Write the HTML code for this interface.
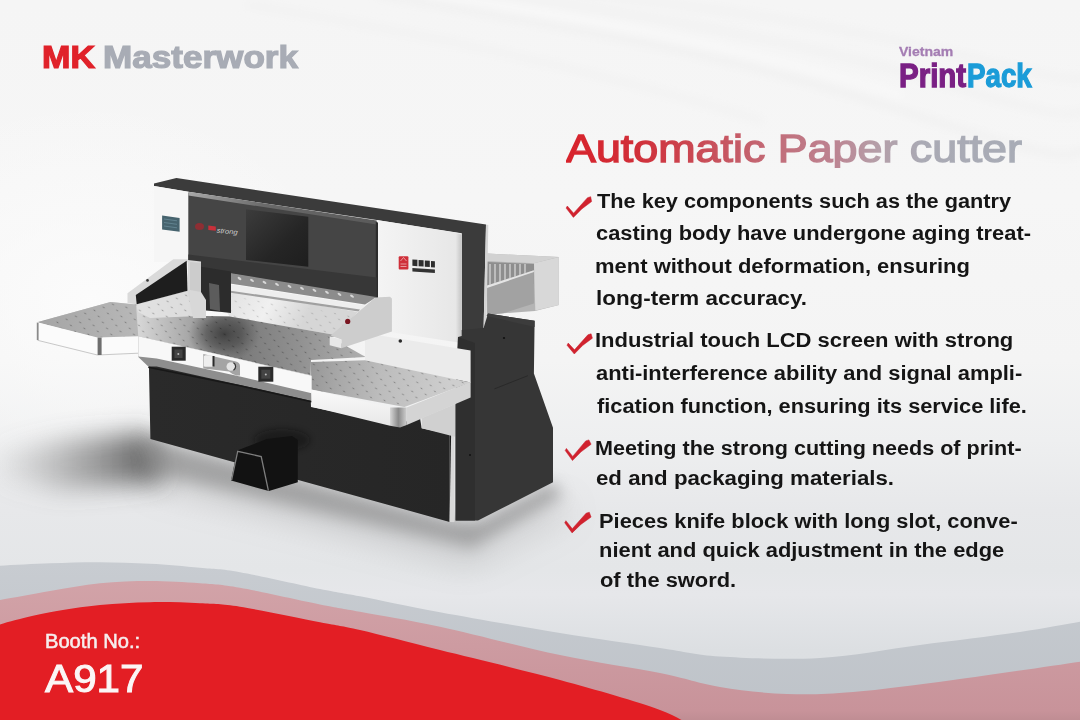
<!DOCTYPE html>
<html><head><meta charset="utf-8"><style>
*{margin:0;padding:0;box-sizing:border-box}
html,body{width:1080px;height:720px;overflow:hidden}
body{position:relative;background:radial-gradient(ellipse 260px 200px at 90px 300px,rgba(252,252,252,0.9),rgba(252,252,252,0)),linear-gradient(180deg,#f5f5f5 0px,#f6f6f6 200px,#f4f4f4 360px,#eeeff0 440px,#e7e8ea 510px,#e4e6e8 570px,#e6e7ea 595px,#dcdfe2 650px,#dadde0 720px);font-family:"Liberation Sans",sans-serif}
.t,.b,.title,.mk,.mw,.vn,.pr,.pk,.booth,.num{position:absolute;white-space:nowrap;line-height:1;transform-origin:0 0}
.b{font-weight:bold;color:#151515}
.title{font-weight:normal;-webkit-text-stroke:1.4px transparent;background:linear-gradient(90deg,#d8222b 0%,#d12e38 15%,#c8505b 32%,#c26b77 45%,#bd8290 58%,#b59ea8 68%,#aaaab4 78%,#a8acb6 100%);-webkit-background-clip:text;background-clip:text;color:transparent}
.mk{font-weight:bold;color:#e0222a;-webkit-text-stroke:1.2px #e0222a}
.mw{font-weight:bold;color:#a8acb5;-webkit-text-stroke:1.2px #a8acb5}
.vn{font-weight:bold;color:#a47db3;-webkit-text-stroke:0.3px #a47db3}
.pr{font-weight:bold;color:#7a2084;-webkit-text-stroke:1.3px #7a2084}
.pk{font-weight:bold;color:#1b9cd8;-webkit-text-stroke:1.3px #1b9cd8}
.booth{color:#f6eeee;-webkit-text-stroke:0.55px #f6eeee}
.num{color:#fbf6f6;-webkit-text-stroke:1px #fbf6f6}
svg{position:absolute;left:0;top:0}
</style></head><body>
<svg width="1080" height="720" viewBox="0 0 1080 720">
<defs>
<linearGradient id="gpink" x1="0" y1="0" x2="0" y2="1"><stop offset="0" stop-color="#d2a3a8"/><stop offset="0.9" stop-color="#c8939a"/><stop offset="1" stop-color="#bb8a90"/></linearGradient>
<linearGradient id="ggray" x1="0" y1="0" x2="0" y2="1"><stop offset="0" stop-color="#c8ccd1"/><stop offset="1" stop-color="#bdc2c8"/></linearGradient>
<filter id="blur8" x="-50%" y="-50%" width="200%" height="200%"><feGaussianBlur stdDeviation="14"/></filter>
</defs>
<filter id="stb" filterUnits="userSpaceOnUse" x="0" y="-50" width="1080" height="300"><feGaussianBlur stdDeviation="4"/></filter>
<g filter="url(#stb)" fill="none" stroke-linecap="round">
<path d="M380,-5 C520,20 700,45 900,110 S1060,150 1090,150" stroke="#e8e8e8" stroke-width="7" opacity="0.4"/>
<path d="M470,-10 C600,10 760,30 930,80 S1060,110 1090,112" stroke="#e9e9e9" stroke-width="6" opacity="0.35"/>
<path d="M560,-10 C680,5 820,20 960,55 S1070,75 1090,78" stroke="#e8e8e8" stroke-width="6" opacity="0.35"/>
<path d="M250,5 C400,30 560,60 760,120" stroke="#ececec" stroke-width="8" opacity="0.3"/>
<path d="M430,-5 C560,15 720,40 900,95" stroke="#fcfcfc" stroke-width="6" opacity="0.6"/>
</g>
<path d="M-5.0,566.0 C4.2,565.5 32.5,563.9 50.0,563.3 C67.5,562.7 83.3,562.1 100.0,562.2 C116.7,562.3 133.3,562.9 150.0,563.8 C166.7,564.7 185.0,566.4 200.0,567.8 C215.0,569.2 220.0,568.7 240.0,572.2 C260.0,575.7 300.0,584.9 320.0,588.9 C340.0,592.9 340.0,592.4 360.0,596.3 C380.0,600.2 406.7,606.1 440.0,612.2 C473.3,618.3 523.3,627.0 560.0,633.0 C596.7,639.0 633.3,644.1 660.0,648.0 C686.7,651.9 693.3,654.8 720.0,656.5 C746.7,658.2 786.7,659.9 820.0,658.0 C853.3,656.1 886.7,649.3 920.0,645.0 C953.3,640.7 992.5,636.0 1020.0,632.0 C1047.5,628.0 1074.2,622.8 1085.0,621.0 L1085,725 L-5,725 Z" fill="url(#ggray)"/>
<path d="M-5.0,601.0 C4.2,599.4 32.5,594.1 50.0,591.1 C67.5,588.1 83.3,585.0 100.0,583.3 C116.7,581.6 133.3,581.1 150.0,581.1 C166.7,581.1 185.0,582.2 200.0,583.3 C215.0,584.4 220.0,584.3 240.0,587.8 C260.0,591.3 300.0,600.4 320.0,604.4 C340.0,608.4 340.0,608.0 360.0,611.7 C380.0,615.4 406.7,619.5 440.0,626.7 C473.3,633.9 523.3,647.3 560.0,655.0 C596.7,662.7 633.3,667.7 660.0,673.0 C686.7,678.3 698.8,683.5 720.0,687.0 C741.2,690.5 764.8,693.2 787.0,694.0 C809.2,694.8 825.3,694.3 853.0,692.0 C880.7,689.7 914.3,685.2 953.0,680.0 C991.7,674.8 1063.0,664.2 1085.0,661.0 L1085,725 L-5,725 Z" fill="url(#gpink)"/>
<path d="M-5.0,626.0 C-1.6,625.0 6.3,622.3 15.5,620.0 C24.7,617.7 35.9,614.7 50.0,612.2 C64.1,609.7 83.3,606.8 100.0,605.1 C116.7,603.4 133.3,602.5 150.0,602.2 C166.7,601.9 185.0,602.5 200.0,603.3 C215.0,604.0 220.0,603.6 240.0,606.7 C260.0,609.9 300.0,618.3 320.0,622.2 C340.0,626.1 340.0,625.4 360.0,630.0 C380.0,634.6 406.7,641.7 440.0,650.0 C473.3,658.3 523.3,670.0 560.0,680.0 C596.7,690.0 636.7,701.3 660.0,710.0 C683.3,718.7 693.3,728.3 700.0,732.0 L1085,725 L-5,725 Z" fill="#e31e24"/>
</svg>
<svg width="1080" height="720" viewBox="0 0 1080 720">
<defs>
<filter id="sh1" filterUnits="userSpaceOnUse" x="-100" y="0" width="1280" height="720"><feGaussianBlur stdDeviation="16"/></filter>
<filter id="sh2" filterUnits="userSpaceOnUse" x="-100" y="0" width="1280" height="720"><feGaussianBlur stdDeviation="8"/></filter>
<filter id="sh3" filterUnits="userSpaceOnUse" x="-100" y="0" width="1280" height="720"><feGaussianBlur stdDeviation="3"/></filter>
<linearGradient id="tbl" gradientUnits="userSpaceOnUse" x1="138" y1="0" x2="370" y2="0"><stop offset="0" stop-color="#d4d4d4"/><stop offset="0.2" stop-color="#a8a8a8"/><stop offset="0.33" stop-color="#555555"/><stop offset="0.45" stop-color="#666666"/><stop offset="0.7" stop-color="#878787"/><stop offset="1" stop-color="#a5a5a5"/></linearGradient>
<linearGradient id="wingL" gradientUnits="userSpaceOnUse" x1="37" y1="0" x2="138" y2="0"><stop offset="0" stop-color="#a2a2a2"/><stop offset="1" stop-color="#b9b9b9"/></linearGradient>
<linearGradient id="wingR" gradientUnits="userSpaceOnUse" x1="311" y1="0" x2="471" y2="0"><stop offset="0" stop-color="#b8b8b8"/><stop offset="0.5" stop-color="#cfcfcf"/><stop offset="1" stop-color="#dedede"/></linearGradient>
<linearGradient id="body" gradientUnits="userSpaceOnUse" x1="150" y1="0" x2="450" y2="0"><stop offset="0" stop-color="#2a2a2a"/><stop offset="1" stop-color="#262626"/></linearGradient>
<linearGradient id="scr" x1="0" y1="0" x2="1" y2="1"><stop offset="0" stop-color="#3c3c3c"/><stop offset="0.6" stop-color="#252525"/><stop offset="1" stop-color="#1e1e1e"/></linearGradient>
<linearGradient id="wp" x1="0" y1="0" x2="1" y2="0"><stop offset="0" stop-color="#f4f4f4"/><stop offset="1" stop-color="#e6e6e6"/></linearGradient>
<linearGradient id="ff" x1="0" y1="0" x2="0" y2="1"><stop offset="0" stop-color="#fafafa"/><stop offset="1" stop-color="#e8e8e8"/></linearGradient>
<linearGradient id="ped" gradientUnits="userSpaceOnUse" x1="455" y1="0" x2="553" y2="0"><stop offset="0" stop-color="#3a3a3a"/><stop offset="1" stop-color="#323232"/></linearGradient>
<linearGradient id="corner" x1="0" y1="0" x2="1" y2="0"><stop offset="0" stop-color="#d8d8d8"/><stop offset="0.5" stop-color="#8a8a8a"/><stop offset="1" stop-color="#cfcfcf"/></linearGradient>
<pattern id="dots" patternUnits="userSpaceOnUse" width="22.7" height="6" patternTransform="matrix(1 0 0.7 1 0 0)"><circle cx="2" cy="1.5" r="0.85" fill="#000" fill-opacity="0.28"/><circle cx="13.35" cy="4.5" r="0.85" fill="#000" fill-opacity="0.28"/></pattern>
</defs>
<!-- floor shadows -->
<filter id="sh4" filterUnits="userSpaceOnUse" x="-100" y="0" width="1280" height="720"><feGaussianBlur stdDeviation="12"/></filter>
<linearGradient id="shg" gradientUnits="userSpaceOnUse" x1="0" y1="0" x2="160" y2="0"><stop offset="0" stop-color="#888" stop-opacity="0.1"/><stop offset="0.5" stop-color="#666" stop-opacity="0.5"/><stop offset="1" stop-color="#3a3a3a" stop-opacity="0.85"/></linearGradient>
<polygon points="0,452 60,440 150,432 165,482 60,490 0,478" fill="url(#shg)" filter="url(#sh4)"/>
<polygon points="145,436 450,520 478,522 553,482 562,496 472,548 150,472" fill="#707070" opacity="0.55" filter="url(#sh2)"/>
<polygon points="150,450 450,535 480,540 560,500 570,515 470,565 150,485" fill="#909090" opacity="0.35" filter="url(#sh1)"/>
<!-- right feeder -->
<polygon points="487,253.6 558.9,257 558.9,305 535,311 503,313.3 487,314.7" fill="#b4b4b4"/>
<polygon points="487,262 534,264 534,284 487,286" fill="#8e8e8e"/>
<g stroke="#d6d6d6" stroke-width="1.3">
<line x1="490" y1="264" x2="490" y2="285"/><line x1="495" y1="264" x2="495" y2="284"/><line x1="500" y1="264" x2="500" y2="283"/><line x1="505" y1="264" x2="505" y2="282"/><line x1="510" y1="264" x2="510" y2="281"/><line x1="515" y1="264" x2="515" y2="280"/><line x1="520" y1="264" x2="520" y2="279"/><line x1="525" y1="264" x2="525" y2="278"/>
</g>
<polygon points="487,285.6 533.9,270.3 533.9,303.6 503.3,313.3 487.4,314.7" fill="#a2a2a2"/>
<polygon points="487,285.6 533.9,270.3 533.9,272 487,288" fill="#e4e4e4"/>
<polygon points="534,263.3 558.9,257 558.9,305 535.3,310.6" fill="#d8d8d8"/>
<polygon points="487,253.6 558.9,257 534,263.3 487,261" fill="#d2d2d2"/>
<!-- top bar and right column -->
<polygon points="154,183.6 176.4,178.1 486,224.4 483.6,328 483.6,345 461.7,345 461.7,233.3 376.7,220 188.3,191.8 154,186" fill="#3b3b3b"/>
<polygon points="486,224.6 488.3,225 486.4,328 483.6,328" fill="#d4d4d4"/>
<!-- left white panel -->
<polygon points="154,186 188.3,191.8 188.3,262 154,262" fill="#f6f6f6"/>
<polygon points="162.1,215.4 179.6,217.9 179.6,231.7 162.1,229.6" fill="#46636e"/>
<g stroke="#7fa5b3" stroke-width="0.6" opacity="0.8"><line x1="164" y1="219" x2="177" y2="220.8"/><line x1="164" y1="222.5" x2="177" y2="224.3"/><line x1="164" y1="226" x2="177" y2="227.8"/></g>
<!-- right white panel -->
<polygon points="376.7,220 461.7,233.5 461.7,343 376.7,330" fill="url(#wp)"/>
<linearGradient id="wps" x1="0" y1="0" x2="1" y2="0"><stop offset="0" stop-color="#e6e6e6"/><stop offset="1" stop-color="#c4c4c4"/></linearGradient>
<polygon points="455.8,233.6 461.7,234.6 461.7,343 455.8,342" fill="url(#wps)"/>
<!-- logo on right panel -->
<rect x="398.7" y="256.2" width="9.7" height="13.2" rx="1" fill="#cf2f39"/>
<g stroke="#f0c8c8" stroke-width="0.7" fill="none"><path d="M400.5,261 L403.5,257.5 L406.5,261"/><line x1="400.5" y1="264" x2="406.5" y2="264"/><line x1="400.5" y1="266.5" x2="406.5" y2="266.5"/></g>
<g fill="#2e2e2e"><polygon points="412.4,259.4 417.4,259.8 417.4,266.2 412.4,265.8"/><polygon points="418.6,259.9 423.6,260.3 423.6,266.6 418.6,266.2"/><polygon points="424.8,260.4 429.8,260.8 429.8,267.1 424.8,266.7"/><polygon points="431,260.9 434.9,261.2 434.9,267.5 431,267.2"/></g>
<polygon points="412.4,268 434.9,269.6 434.9,273 412.4,271.4" fill="#333"/>
<!-- dark front panel -->
<polygon points="188.3,192.7 376.7,221.7 376.7,298 200,268.5 188.3,266" fill="#454545"/>
<linearGradient id="bev" gradientUnits="userSpaceOnUse" x1="188" y1="0" x2="377" y2="0"><stop offset="0" stop-color="#a8a8a8"/><stop offset="0.4" stop-color="#6a6a6a"/><stop offset="1" stop-color="#5a5a5a"/></linearGradient>
<polygon points="188.3,191.8 376.7,220.5 376.7,224.5 188.3,195.5" fill="url(#bev)"/>
<polygon points="375.8,222 378,222.4 378,300 375.8,299.5" fill="#2c2c2c"/>
<polygon points="246,209.3 308.3,216.7 308.3,266.7 246,260" fill="url(#scr)"/>
<!-- red logo on dark panel -->
<ellipse cx="199.5" cy="226.5" rx="4.5" ry="3.5" fill="#a0282e" opacity="0.8"/>
<polygon points="208.3,225.6 215.8,226.4 215.8,230.8 208.3,230" fill="#c8303a"/>
<text x="216.5" y="232.5" font-family="Liberation Sans" font-size="7" font-style="italic" fill="#d0d0d0" transform="rotate(6 216.5 232.5)" textLength="21" lengthAdjust="spacingAndGlyphs">strong</text>
<!-- back table under knife -->
<linearGradient id="bt" gradientUnits="userSpaceOnUse" x1="230" y1="295" x2="300" y2="330"><stop offset="0" stop-color="#e2e2e2"/><stop offset="0.5" stop-color="#f0f0f0"/><stop offset="1" stop-color="#d6d6d6"/></linearGradient>
<polygon points="215,288 358,312 353.8,316 341.2,336 229.4,316.4" fill="url(#bt)"/>
<!-- clamp bar -->
<polygon points="188.3,254.4 376.7,277.6 376.7,298 200,268.5 188.3,266" fill="#373737"/>
<polygon points="205,269 376,297 372,300 365,304.4 210,280.5" fill="#8c8c8c"/>
<g fill="#d8d8d8">
<ellipse cx="227.0" cy="276.5" rx="2.2" ry="1.1" transform="rotate(35 227.0 276.5)"/>
<ellipse cx="239.5" cy="278.5" rx="2.2" ry="1.1" transform="rotate(35 239.5 278.5)"/>
<ellipse cx="252.0" cy="280.4" rx="2.2" ry="1.1" transform="rotate(35 252.0 280.4)"/>
<ellipse cx="264.5" cy="282.4" rx="2.2" ry="1.1" transform="rotate(35 264.5 282.4)"/>
<ellipse cx="277.0" cy="284.4" rx="2.2" ry="1.1" transform="rotate(35 277.0 284.4)"/>
<ellipse cx="289.5" cy="286.4" rx="2.2" ry="1.1" transform="rotate(35 289.5 286.4)"/>
<ellipse cx="302.0" cy="288.4" rx="2.2" ry="1.1" transform="rotate(35 302.0 288.4)"/>
<ellipse cx="314.5" cy="290.3" rx="2.2" ry="1.1" transform="rotate(35 314.5 290.3)"/>
<ellipse cx="327.0" cy="292.3" rx="2.2" ry="1.1" transform="rotate(35 327.0 292.3)"/>
<ellipse cx="339.5" cy="294.3" rx="2.2" ry="1.1" transform="rotate(35 339.5 294.3)"/>
<ellipse cx="352.0" cy="296.2" rx="2.2" ry="1.1" transform="rotate(35 352.0 296.2)"/>
</g>
<!-- knife bar -->
<polygon points="212,281.5 365,305.4 360,311 212,289.5" fill="#eeeeee"/>
<polygon points="212,288 360,309.5 358.5,311.5 212,290" fill="#a0a0a0"/>
<!-- main table surface -->
<linearGradient id="tbl2" gradientUnits="userSpaceOnUse" x1="110" y1="0" x2="370" y2="0"><stop offset="0" stop-color="#c8c8c8"/><stop offset="0.11" stop-color="#d6d6d6"/><stop offset="0.3" stop-color="#a8a8a8"/><stop offset="0.5" stop-color="#7a7a7a"/><stop offset="0.72" stop-color="#909090"/><stop offset="0.9" stop-color="#a6a6a6"/><stop offset="1" stop-color="#b0b0b0"/></linearGradient>
<radialGradient id="tdark" gradientUnits="userSpaceOnUse" cx="224" cy="334" r="40" gradientTransform="translate(224 334) scale(0.9 0.7) translate(-224 -334)"><stop offset="0" stop-color="#3a3a3a" stop-opacity="0.9"/><stop offset="0.5" stop-color="#444" stop-opacity="0.6"/><stop offset="1" stop-color="#555" stop-opacity="0"/></radialGradient>
<clipPath id="tclip"><polygon points="110.5,302 136,304.4 187.8,291.1 193,300 206,316 229.4,316.4 341.2,336 330.2,337 365.6,357 311,360 310.6,375.2 138.3,336.3 99.3,338.6 37.1,322.3"/></clipPath>
<polygon points="110.5,302 136,304.4 187.8,291.1 193,300 206,316 229.4,316.4 341.2,336 330.2,337 365.6,357 311,360 310.6,375.2 138.3,336.3 99.3,338.6 37.1,322.3" fill="url(#tbl2)"/>
<ellipse cx="224" cy="334" rx="42" ry="30" fill="url(#tdark)" clip-path="url(#tclip)"/>
<!-- lighter strip under left arm -->
<polygon points="136.1,304.4 187.8,291.1 193,300 200,316 150,318 138,312" fill="#e2e2e2" opacity="0.9"/>
<!-- left wing top -->
<linearGradient id="wingL2" gradientUnits="userSpaceOnUse" x1="37" y1="0" x2="140" y2="0"><stop offset="0" stop-color="#a4a4a4"/><stop offset="1" stop-color="#b8b8b8"/></linearGradient>
<polygon points="37.1,322.3 110.5,302 136,304.4 138.3,337 99.3,338.6" fill="url(#wingL2)"/>
<polygon points="110.5,302 136,304.4 187.8,291.1 193,300 206,316 229.4,316.4 341.2,336 330.2,337 365.6,357 311,360 310.6,375.2 138.3,336.3 99.3,338.6 37.1,322.3" fill="url(#dots)"/>
<polygon points="230,296 355,316 341.2,336 229.4,316.4" fill="url(#dots)" opacity="0.6"/>
<!-- knife holder -->
<polygon points="201,266.7 231,271.5 231,313 222,312 201,310" fill="#2c2c2c"/>
<polygon points="209,283 219,285 220,311 210,309" fill="#5c5c5c"/>
<!-- left white column -->
<polygon points="187.8,260 201,261.5 201,292 206,300 206,318 193,318 187.8,292" fill="#d8d8d8"/>
<polygon points="190,262 201,263 201,292 190,290" fill="#cccccc"/>
<!-- left arm -->
<polygon points="127.5,293.3 173.3,259.2 187.8,259.2 187.8,262 136.7,304.2 127.5,303.3" fill="#dadada"/>
<polygon points="135.8,295 186.7,260.8 187.5,290.8 136.7,304.2" fill="#1e1e1e"/>
<circle cx="147.5" cy="280.4" r="1.3" fill="#333"/>
<!-- right pedestal -->
<polygon points="458,337 461.7,336 461.7,330 483.6,328 488,313.5 534.6,320.8 533.9,373.5 553,427.8 553,482.2 478,520.5 455.6,520.5 455.6,405.5" fill="#363636"/>
<polygon points="458,337 475,343 475,520.5 455.6,520.5 455.6,405.5" fill="#2f2f2f"/>
<polygon points="486.5,316 488,313.5 534.6,320.8 534.6,327 " fill="#3c3c3c"/>
<line x1="494.4" y1="388.9" x2="527.8" y2="375.7" stroke="#262626" stroke-width="0.8"/>
<circle cx="504" cy="338" r="1.1" fill="#111"/>
<circle cx="470" cy="455" r="1" fill="#111"/>
<!-- lower dark body -->
<polygon points="148.9,364.8 150,360 310.6,393.7 311,407 395.6,424 420,418 421.7,428.3 451.1,434.4 449.6,521.9 150.4,438.9" fill="url(#body)"/>
<polygon points="449.6,434 454.5,435 454.5,522 449.6,522" fill="#d8d8d8"/>
<polygon points="449.6,434 451.1,434.4 449.6,521.9" fill="#1a1a1a"/>
<polygon points="421.7,418 455,404 455,436.7 421.7,428.3" fill="#d0d0d0"/>
<!-- right wing back wall -->
<polygon points="365,333 470.6,350.6 470.6,382.6 365,360.2" fill="#ebebeb"/>
<circle cx="400.3" cy="341" r="1.8" fill="#2a2a2a"/>
<!-- right wing top -->
<linearGradient id="wingR2" gradientUnits="userSpaceOnUse" x1="311" y1="370" x2="450" y2="385"><stop offset="0" stop-color="#989898"/><stop offset="0.2" stop-color="#a8a8a8"/><stop offset="0.5" stop-color="#bcbcbc"/><stop offset="1" stop-color="#cecece"/></linearGradient>
<polygon points="311.1,389.5 311,362 365,360.2 470.6,382.6 404.4,407.1" fill="url(#wingR2)"/>
<polygon points="311.1,389.5 311,362 365,360.2 470.6,382.6 404.4,407.1" fill="url(#dots)"/>
<!-- side guide -->
<polygon points="330.7,335.5 375.4,297.6 390,296.7 391.9,298.6 391.9,331.6 341.4,348.2 341.4,339.4" fill="#cdcdcd"/>
<polygon points="329.7,336.5 341.4,339.4 341.4,348.2 329.7,345.3" fill="#e8e8e8"/>
<circle cx="347.7" cy="321.4" r="2.6" fill="#7a1520"/>
<!-- front faces -->
<polygon points="37.1,322.3 97.4,337.5 138.3,336.3 138.3,353.2 97.4,355 38.4,340.5" fill="#fbfbfb"/>
<polyline points="38.4,340.5 97.4,355 138.3,353.2" fill="none" stroke="#c8c8c8" stroke-width="1"/>
<polygon points="36.8,322.5 38.6,323 38.6,340.6 36.8,340" fill="#8a8a8a"/>
<polygon points="97.6,337.6 101.6,337.4 101.6,355 97.6,355" fill="#6e6e6e"/>
<polygon points="138.3,336.3 311.7,375.8 311.7,401 240,385 156.7,366.5 148.3,366.5 138.3,357" fill="#8e8e8e"/>
<polyline points="148.3,367.2 240,385.8 311.7,401.8" fill="none" stroke="#181818" stroke-width="1.6"/>
<polygon points="138.3,336.3 311.7,375.8 311.7,393.3 240,376.5 203.3,368.5 156.7,358.5 138.3,356.5" fill="#f8f8f8"/>
<path d="M203.3,354 L236,361.5 Q240,362.5 240,366 L240,375.5 L236.5,375.5 Q233,375 229,371.5 L203.3,368.5 Z" fill="#a4a4a4"/>
<rect x="203.8" y="355.2" width="10" height="11.5" rx="1.5" fill="#eeeeee"/>
<rect x="212.5" y="356" width="2" height="10.5" fill="#2a2a2a"/>
<circle cx="230.8" cy="366.5" r="4.3" fill="#e4e4e4"/>
<path d="M233.5,362.8 A4.3,4.3 0 0 1 233.5,370.2" fill="none" stroke="#333" stroke-width="1.2"/>
<polygon points="311.1,389.5 390,407.5 390,425.8 311.7,406.7" fill="url(#ff)"/>
<polygon points="390,407.5 406.7,407.5 406.7,425 400,427.5 390,425.8" fill="url(#corner)"/>
<polygon points="406.7,407.5 470.6,381.7 470.6,397.5 406.7,425" fill="#d4d4d4"/>
<!-- switches -->
<rect x="171.7" y="346.7" width="14" height="14" fill="#2a2a2a"/>
<rect x="174.5" y="349.5" width="8" height="8.5" fill="#444"/>
<circle cx="178.3" cy="354" r="1" fill="#bbb"/>
<rect x="258.3" y="366.7" width="15" height="15" fill="#2a2a2a"/>
<rect x="261.3" y="369.7" width="9" height="9" fill="#444"/>
<circle cx="265.8" cy="374.6" r="1" fill="#bbb"/>
<!-- pedal -->
<ellipse cx="282" cy="440" rx="28" ry="11" fill="#0a0a0a" opacity="0.45" filter="url(#sh3)"/>
<polygon points="231.1,480.6 237.2,450.6 266.7,438.9 292,436 297.8,440 297.8,482.2 268.9,491.1" fill="#121212"/>
<polyline points="231.6,480.2 237.7,451.3 261.2,456.6 268.4,490.6" fill="none" stroke="#7e7e7e" stroke-width="1.3"/>
</svg>

<svg width="1080" height="720" viewBox="0 0 1080 720"><polygon points="567.3,206.0 573.6,213.2 587.5,197.7 590.7,196.7 591.6,201.6 581.8,208.9 573.4,217.4 566.1,208.1" fill="#d1222e" stroke="#c41d2a" stroke-width="0.5" stroke-linejoin="round"/><polygon points="568.2,343.1 574.5,349.8 587.9,334.8 591.1,333.8 592.4,338.2 582.6,345.5 574.3,354.0 567.0,345.2" fill="#d1222e" stroke="#c41d2a" stroke-width="0.5" stroke-linejoin="round"/><polygon points="566.4,448.4 572.7,456.4 585.7,440.9 588.9,439.9 591.1,444.3 581.1,451.8 572.5,460.6 565.2,450.5" fill="#d1222e" stroke="#c41d2a" stroke-width="0.5" stroke-linejoin="round"/><polygon points="565.9,520.7 572.3,528.7 586.1,513.2 589.3,512.2 591.1,517.1 580.9,524.4 572.1,532.9 564.7,522.8" fill="#d1222e" stroke="#c41d2a" stroke-width="0.5" stroke-linejoin="round"/></svg>
<div class="b" style="left:597.20px;top:192.38px;font-size:19.4px;transform:scaleX(1.1202);">The key components such as the gantry</div>
<div class="b" style="left:596.25px;top:224.08px;font-size:19.4px;transform:scaleX(1.1278);">casting body have undergone aging treat-</div>
<div class="b" style="left:595.20px;top:257.08px;font-size:19.4px;transform:scaleX(1.1338);">ment without deformation, ensuring</div>
<div class="b" style="left:596.00px;top:289.08px;font-size:19.4px;transform:scaleX(1.1544);">long-term accuracy.</div>
<div class="b" style="left:595.25px;top:331.08px;font-size:19.4px;transform:scaleX(1.1353);">Industrial touch LCD screen with strong</div>
<div class="b" style="left:596.25px;top:364.08px;font-size:19.4px;transform:scaleX(1.1303);">anti-interference ability and signal ampli-</div>
<div class="b" style="left:597.25px;top:396.58px;font-size:19.4px;transform:scaleX(1.1238);">fication function, ensuring its service life.</div>
<div class="b" style="left:595.25px;top:438.58px;font-size:19.4px;transform:scaleX(1.1125);">Meeting the strong cutting needs of print-</div>
<div class="b" style="left:596.25px;top:469.08px;font-size:19.4px;transform:scaleX(1.1475);">ed and packaging materials.</div>
<div class="b" style="left:599.38px;top:511.58px;font-size:19.4px;transform:scaleX(1.1262);">Pieces knife block with long slot, conve-</div>
<div class="b" style="left:599.38px;top:541.08px;font-size:19.4px;transform:scaleX(1.1296);">nient and quick adjustment in the edge</div>
<div class="b" style="left:600.38px;top:570.58px;font-size:19.4px;transform:scaleX(1.1287);">of the sword.</div>
<div class="title" style="left:565.50px;top:128.96px;font-size:39.5px;transform:scaleX(1.1349);">Automatic Paper cutter</div>
<div class="mk" style="left:42.48px;top:41.87px;font-size:31.1px;transform:scaleX(1.0963);">MK</div>
<div class="mw" style="left:103.25px;top:41.87px;font-size:31.1px;transform:scaleX(1.1284);">Masterwork</div>
<div class="vn" style="left:898.55px;top:45.23px;font-size:13.2px;transform:scaleX(1.0629);">Vietnam</div>
<div class="pr" style="left:899.40px;top:58.57px;font-size:33px;transform:scaleX(0.8937);">Print</div>
<div class="pk" style="left:967.25px;top:58.57px;font-size:33px;transform:scaleX(0.8409);">Pack</div>
<div class="booth" style="left:45.20px;top:631.89px;font-size:19.5px;transform:scaleX(1.0319);">Booth No.:</div>
<div class="num" style="left:45.25px;top:660.46px;font-size:38.8px;transform:scaleX(1.0871);">A917</div>
</body></html>
